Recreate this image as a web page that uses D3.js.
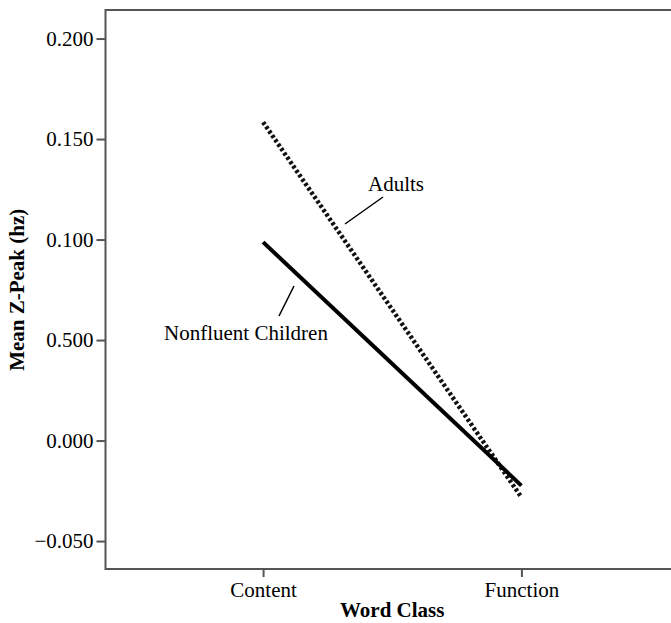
<!DOCTYPE html>
<html>
<head>
<meta charset="utf-8">
<script src="https://cdn.jsdelivr.net/npm/d3@7"></script>
<style>
  body { margin: 0; background: #fff; }
</style>
</head>
<body>
<div id="vis"></div>
<script>
// Data
const categories = ["Content", "Function"];
const adults = [0.1584, -0.0282];
const nonfluent = [0.0987, -0.0224];
const yTickValues = [0.2, 0.15, 0.1, 0.05, 0.0, -0.05];
const yTickLabels = ["0.200", "0.150", "0.100", "0.500", "0.000", "\u22120.050"];

const width = 671;
const height = 623;
const margin = { top: 10, right: -8, bottom: 54, left: 105.5 };
const serif = "Liberation Serif";
const fontSize = "21px";

const svg = d3.select("#vis")
  .append("svg")
  .attr("width", width)
  .attr("height", height)
  .style("font-family", serif);

const xScale = d3.scalePoint()
  .domain(categories)
  .range([margin.left, width - margin.right])
  .padding(0.61);

const yScale = d3.scaleLinear()
  .domain([-0.0639, 0.2142])
  .range([height - margin.bottom, margin.top]);

// Frame (top, left, bottom) - right side runs off the image
const x0 = margin.left, x1 = width - margin.right;
const y0 = yScale.range()[1], y1 = yScale.range()[0];
svg.append("path")
  .attr("d", `M${x1},${y0}H${x0}V${y1}H${x1}`)
  .attr("fill", "none")
  .attr("stroke", "#555")
  .attr("stroke-width", 2);

// Y axis
const yAxis = svg.append("g")
  .attr("transform", `translate(${x0},0)`)
  .call(d3.axisLeft(yScale)
    .tickValues(yTickValues)
    .tickSize(9)
    .tickPadding(3)
    .tickFormat((d, i) => yTickLabels[i]));
yAxis.attr("font-family", null).attr("font-size", fontSize);
yAxis.select(".domain").remove();
yAxis.selectAll(".tick line").attr("stroke", "#555").attr("stroke-width", 2);
yAxis.selectAll(".tick text").attr("fill", "#000").style("font-family", serif);

// X axis
const xAxis = svg.append("g")
  .attr("transform", `translate(0,${y1})`)
  .call(d3.axisBottom(xScale).tickSize(8).tickPadding(5));
xAxis.attr("font-family", null).attr("font-size", fontSize);
xAxis.select(".domain").remove();
xAxis.selectAll(".tick line").attr("stroke", "#555").attr("stroke-width", 2);
xAxis.selectAll(".tick text").attr("fill", "#000").style("font-family", serif);

// Axis titles
svg.append("text")
  .attr("x", (xScale("Content") + xScale("Function")) / 2)
  .attr("y", 617)
  .attr("text-anchor", "middle")
  .style("font-family", serif)
  .attr("font-size", fontSize)
  .attr("font-weight", "bold")
  .text("Word Class");

svg.append("text")
  .attr("transform", `translate(24,${yScale(0.075)}) rotate(-90)`)
  .attr("text-anchor", "middle")
  .style("font-family", serif)
  .attr("font-size", fontSize)
  .attr("font-weight", "bold")
  .text("Mean Z-Peak (hz)");

// Lines
const line = d3.line()
  .x((d, i) => xScale(categories[i]))
  .y(d => yScale(d));

svg.append("path")
  .datum(adults)
  .attr("d", line)
  .attr("fill", "none")
  .attr("stroke", "#111")
  .attr("stroke-width", 4.5)
  .attr("stroke-dasharray", "3,2.3");

svg.append("path")
  .datum(nonfluent)
  .attr("d", line)
  .attr("fill", "none")
  .attr("stroke", "#000")
  .attr("stroke-width", 4);

// Labels with leader lines
svg.append("line")
  .attr("x1", 345).attr("y1", 224)
  .attr("x2", 383).attr("y2", 197)
  .attr("stroke", "#000").attr("stroke-width", 1.5);
svg.append("text")
  .attr("x", 396).attr("y", 191)
  .attr("text-anchor", "middle")
  .style("font-family", serif)
  .attr("font-size", fontSize)
  .text("Adults");

svg.append("line")
  .attr("x1", 294).attr("y1", 286)
  .attr("x2", 279).attr("y2", 316)
  .attr("stroke", "#000").attr("stroke-width", 1.5);
svg.append("text")
  .attr("x", 246).attr("y", 340)
  .attr("text-anchor", "middle")
  .style("font-family", serif)
  .attr("font-size", fontSize)
  .text("Nonfluent Children");
</script>
</body>
</html>
